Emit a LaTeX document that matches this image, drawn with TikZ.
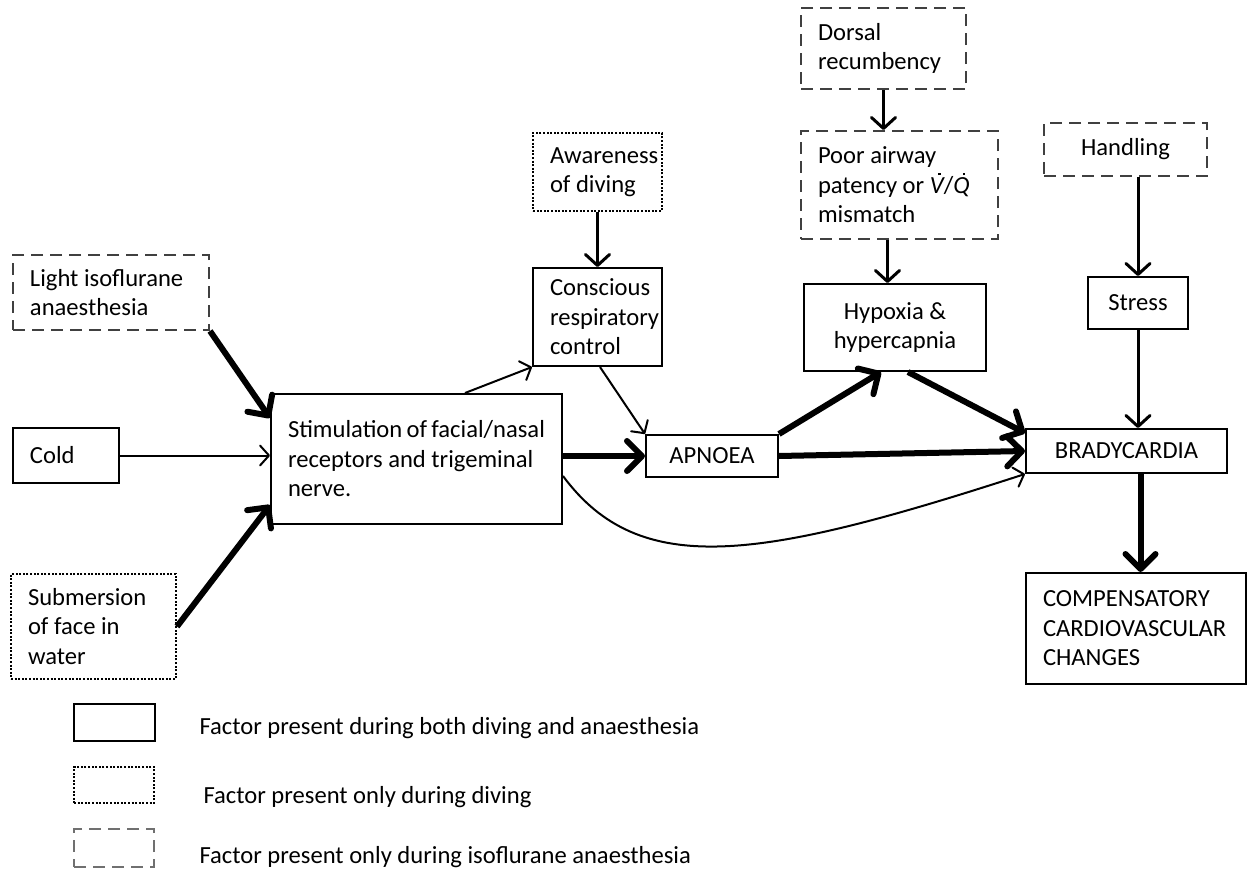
\documentclass[tikz,border=0pt]{standalone}
\usepackage{fontspec}
\setmainfont{Carlito}
\usetikzlibrary{arrows.meta,calc}
\hyphenpenalty=10000
\exhyphenpenalty=10000
\newcommand\dotover[1]{{\ooalign{#1\cr\hidewidth\raisebox{0.74em}{\kern0.2em\rule{2.6pt}{2.6pt}}\hidewidth\cr}}}
\definecolor{dashgray}{HTML}{404040}
\definecolor{leggray}{HTML}{707070}
\tikzset{
  box/.style={draw, line width=2pt, anchor=north west, inner ysep=2pt, font=\fontsize{24.6}{29.5}\selectfont},
  lbox/.style={box, align=flush left, inner xsep=17pt},
  cbox/.style={box, align=center, inner xsep=2pt},
  dotb/.style={dash pattern=on 2pt off 1.6pt},
  dashb/.style={draw=dashgray, dash pattern=on 12pt off 7pt},
  thinarr/.style={line width=2pt, -{Straight Barb[length=9pt,width=20pt,round]}},
  medarr/.style={line width=3pt, -{Straight Barb[length=11pt,width=24pt,round]}},
  thickarr/.style={line width=6pt, -{Straight Barb[length=15pt,width=30pt,round]}},
  legtext/.style={anchor=west, font=\fontsize{24.6}{29.5}\selectfont},
}
\begin{document}
\begin{tikzpicture}[x=1pt,y=-1pt]
\useasboundingbox (0,0) rectangle (1251,870);

% nodes
\node[lbox,dashb,text width=131pt,minimum height=81pt] (dorsal) at (800,7) {Dorsal\\recumbency};
\node[lbox,dashb,text width=163pt,minimum height=108pt] (poor) at (800,130) {Poor~airway\\patency~or~\textit{\dotover{V}}/\textit{\dotover{Q}}\\mismatch};
\node[lbox,dotb,text width=95pt,minimum height=78pt] (aware) at (532,132) {Awareness\\of~diving};
\node[lbox,text width=95pt,minimum height=98pt] (consc) at (532,267) {Conscious\\respiratory\\control};
\node[cbox,dashb,minimum width=163pt,minimum height=53pt] (hand) at (1043,122) {Handling};
\node[cbox,minimum width=100pt,minimum height=52pt] (stress) at (1087,276) {Stress};
\node[cbox,minimum width=182pt,minimum height=87pt] (hyp) at (803,283) {Hypoxia \&\\hypercapnia};
\node[lbox,dashb,text width=162pt,minimum height=75pt] (light) at (12,254) {Light~isoflurane\\anaesthesia};
\node[lbox,text width=72pt,minimum height=55pt] (cold) at (12,427) {Cold};
\node[lbox,text width=257pt,minimum height=130pt] (stim) at (270,393) {Stimulation~of~facial/nasal\\receptors~and~trigeminal\\nerve.};
\node[lbox,dotb,text width=131pt,minimum height=105pt] (sub) at (10,573) {Submersion\\of~face~in\\water};
\node[cbox,minimum width=132pt,minimum height=42pt] (apn) at (645,434) {APNOEA};
\node[cbox,minimum width=201pt,minimum height=44pt] (brady) at (1025,428) {BRADYCARDIA};
\node[lbox,text width=186pt,minimum height=111pt] (comp) at (1025,572) {COMPENSATORY\\CARDIOVASCULAR\\CHANGES};

% legend
\node[box,minimum width=81pt,minimum height=37pt] (leg1) at (73,703) {};
\node[box,dotb,minimum width=80pt,minimum height=36pt] (leg2) at (73,766) {};
\node[box,dashb,draw=leggray,minimum width=80pt,minimum height=38pt] (leg3) at (73,828) {};
\node[legtext] (lt1) at (196,728) {Factor present during both diving and anaesthesia};
\node[legtext] (lt2) at (200,797) {Factor present only during diving};
\node[legtext] (lt3) at (196,857) {Factor present only during isoflurane anaesthesia};

% connectors
\draw[thickarr] (light.south east) -- ([yshift=-25pt]stim.north west);
\draw[thinarr] (cold.east) -- (stim.west |- cold.east);
\draw[thickarr] (sub.east) -- ([yshift=20pt]stim.south west);
\draw[thinarr] ([xshift=195pt]stim.north west) -- (consc.south west);
\draw[medarr] (aware.south) -- (consc.north);
\draw[thinarr] ([xshift=68pt]consc.south west) -- (apn.north west);
\draw[thickarr] (stim.east |- apn.west) -- (apn.west);
\draw[thickarr] (apn.east) -- (brady.west);
\draw[thickarr] (apn.north east) -- ([xshift=-14pt]hyp.south);
\draw[thickarr] ([xshift=13pt]hyp.south) -- ([yshift=-5pt]brady.north west);
\draw[thinarr] ([yshift=-83pt]stim.north east) .. controls (640,580) and (760,560) .. (brady.south west);
\draw[medarr] (dorsal.south) -- (dorsal.south |- poor.north);
\draw[medarr] ([xshift=-12pt]poor.south) -- ([xshift=-12pt]poor.south |- hyp.north);
\draw[medarr] (hand.south -| stress.north) -- (stress.north);
\draw[medarr] (stress.south) -- (stress.south |- brady.north);
\draw[thickarr] ([xshift=14pt]brady.south) -- ([xshift=14pt]brady.south |- comp.north);
\end{tikzpicture}
\end{document}
